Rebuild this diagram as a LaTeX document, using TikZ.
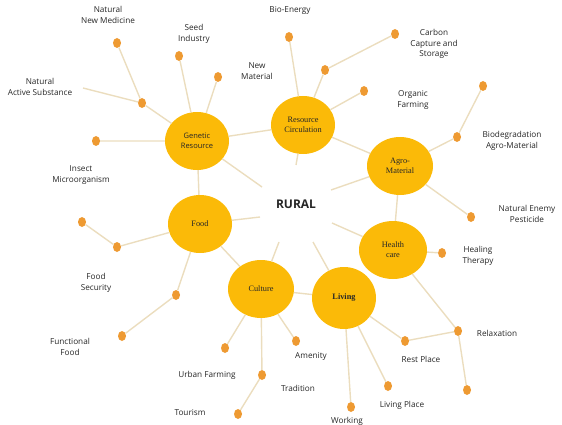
\documentclass[tikz,border=0pt]{standalone}
\usepackage{fontspec}
\setmainfont{Liberation Serif}
\newfontfamily\labfont{Open Sans}
\usetikzlibrary{shapes.geometric}
\definecolor{hub}{HTML}{FBBA08}
\definecolor{leaf}{HTML}{EE9A32}
\definecolor{link}{HTML}{EBDDBE}
\tikzset{
  hubnode/.style={ellipse, fill=hub, draw=none, minimum width=64pt, minimum height=58pt, inner sep=0pt, align=center, font=\fontsize{8.3}{10}\selectfont, text=black!85},
  dotnode/.style={ellipse, fill=leaf, draw=none, minimum width=8pt, minimum height=10pt, inner sep=0pt},
  lab/.style={align=center, font=\labfont\fontsize{8.2}{10.5}\selectfont, text=black!85, inner sep=0pt},
  conn/.style={draw=link, line width=1.4pt}
}
\begin{document}
\begin{tikzpicture}[x=1pt,y=-1pt]
\useasboundingbox (0,0) rectangle (562,425);
% hubs
\node[hubnode, font=\labfont\fontsize{7.5}{10}\selectfont] (gr) at (197,141) {Genetic\\Resource};
\node[hubnode] (rc) at (303,125) {Resource\\Circulation};
\node[hubnode, minimum width=66pt] (am) at (400,166) {Agro-\\Material};
\node[hubnode] (fd) at (200,224) {Food};
\node[hubnode, minimum width=66pt] (cu) at (261,289) {Culture};
\node[hubnode, minimum height=62pt] (lv) at (344,298) {\textbf{Living}};
\node[hubnode, minimum width=68pt] (hc) at (393,250) {Health\\care};
\node[font=\labfont\bfseries\fontsize{12}{14}\selectfont, text=black!85] (ru) at (296,204) {RURAL};
% center line ends
\coordinate (cgr) at (262,187);
\coordinate (crc) at (296,165);
\coordinate (cam) at (331,190);
\coordinate (chc) at (332,223);
\coordinate (clv) at (313,242);
\coordinate (ccu) at (279,242);
\coordinate (cfd) at (260,217);
% dots
\node[dotnode] (d1) at (142,103) {};
\node[dotnode] (d2) at (117,43) {};
\coordinate (e1) at (83,88);
\node[dotnode] (d3) at (179,56) {};
\node[dotnode] (d4) at (218,77) {};
\node[dotnode] (d5) at (96,141) {};
\node[dotnode] (d6) at (289,37) {};
\node[dotnode] (d7) at (325,70) {};
\node[dotnode] (d8) at (395,34) {};
\node[dotnode] (d9) at (364,91) {};
\node[dotnode] (d10) at (457,137) {};
\node[dotnode] (d11) at (483,86) {};
\node[dotnode] (d12) at (471,217) {};
\node[dotnode] (d13) at (442,253) {};
\node[dotnode] (d14) at (458,331) {};
\node[dotnode] (d15) at (405,341) {};
\node[dotnode] (d16) at (467,390) {};
\node[dotnode] (d17) at (388,386) {};
\node[dotnode] (d18) at (351,407) {};
\node[dotnode] (d19) at (296,341) {};
\node[dotnode] (d20) at (262,375) {};
\node[dotnode] (d21) at (238,414) {};
\node[dotnode] (d22) at (225,348) {};
\node[dotnode] (d23) at (117,247) {};
\node[dotnode] (d24) at (82,222) {};
\node[dotnode] (d25) at (176,295) {};
\node[dotnode] (d26) at (122,336) {};
% connectors
\draw[conn] (gr) -- (d1) (d1) -- (d2) (d1) -- (e1);
\draw[conn] (gr) -- (d3) (gr) -- (d4) (gr) -- (d5);
\draw[conn] (gr) -- (cgr) (gr) -- (fd) (gr) -- (rc);
\draw[conn] (rc) -- (d6) (rc) -- (d7) (d7) -- (d8) (rc) -- (d9);
\draw[conn] (rc) -- (crc) (rc) -- (am);
\draw[conn] (am) -- (d10) (d10) -- (d11) (am) -- (d12);
\draw[conn] (am) -- (cam) (am) -- (hc);
\draw[conn] (hc) -- (d13) (hc) -- (d14) (d14) -- (d15) (d14) -- (d16);
\draw[conn] (hc) -- (chc);
\draw[conn] (lv) -- (clv) (lv) -- (d15) (lv) -- (d17) (lv) -- (d18) (lv) -- (cu);
\draw[conn] (cu) -- (ccu) (cu) -- (d22) (cu) -- (d20) (d20) -- (d21) (cu) -- (d19) (cu) -- (fd);
\draw[conn] (fd) -- (cfd) (fd) -- (d23) (d23) -- (d24) (fd) -- (d25) (d25) -- (d26);
% labels
\node[lab] (l1) at (108,15) {Natural\\New Medicine};
\node[lab] (l2) at (194,34) {Seed\\Industry};
\node[lab] (l3) at (257,71) {New\\Material};
\node[lab] (l4) at (40,87) {Natural\\Active Substance};
\node[lab] (l5) at (81,175) {Insect\\Microorganism};
\node[lab] (l6) at (290,10) {Bio-Energy};
\node[lab] (l7) at (434,44) {Carbon\\Capture and\\Storage};
\node[lab] (l8) at (413,100) {Organic\\Farming};
\node[lab] (l9) at (512,141) {Biodegradation\\Agro-Material};
\node[lab] (l10) at (527,214) {Natural Enemy\\Pesticide};
\node[lab] (l11) at (478,256) {Healing\\Therapy};
\node[lab] (l12) at (497,333) {Relaxation};
\node[lab] (l13) at (421,359) {Rest Place};
\node[lab] (l14) at (402,405) {Living Place};
\node[lab] (l15) at (347,421) {Working};
\node[lab] (l16) at (311,356) {Amenity};
\node[lab] (l17) at (298,388) {Tradition};
\node[lab] (l18) at (207,375) {Urban Farming};
\node[lab] (l19) at (190,413) {Tourism};
\node[lab] (l20) at (70,347) {Functional\\Food};
\node[lab] (l21) at (96,283) {Food\\Security};
\end{tikzpicture}
\end{document}
